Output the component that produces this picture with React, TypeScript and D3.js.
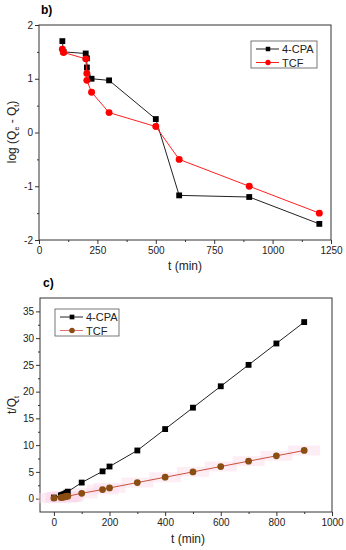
import React, { useEffect, useRef } from 'react'
import * as d3 from 'd3'

// panel b: pseudo-first-order
const bCpaT = [100, 105, 200, 205, 205, 225, 300, 500, 600, 900, 1200]
const bCpaV = [1.7, 1.5, 1.47, 1.38, 1.21, 1.0, 0.97, 0.25, -1.17, -1.2, -1.7]
const bTcfT = [100, 105, 200, 205, 205, 225, 300, 500, 600, 900, 1200]
const bTcfV = [1.55, 1.49, 1.37, 1.1, 0.97, 0.75, 0.37, 0.11, -0.5, -1.0, -1.5]

// panel c: pseudo-second-order
const cCpaT = [0, 25, 30, 35, 40, 45, 50, 100, 175, 200, 300, 400, 500, 600, 700, 800, 900]
const cCpaV = [0.2, 0.6, 0.7, 0.8, 0.9, 1.1, 1.3, 3, 5.1, 6, 9, 13, 17, 21, 25, 29, 33]
const cTcfT = [0, 25, 30, 35, 40, 45, 50, 100, 175, 200, 300, 400, 500, 600, 700, 800, 900]
const cTcfV = [0.1, 0.2, 0.25, 0.3, 0.35, 0.4, 0.45, 1, 1.7, 2, 3, 4, 5, 6, 7, 8, 9]

const seriesNames = ['4-CPA', 'TCF']
const bXTicks = [0, 250, 500, 750, 1000, 1250]
const bYTicks = [-2, -1, 0, 1, 2]
const cXTicks = [0, 200, 400, 600, 800, 1000]
const cYTicks = [0, 5, 10, 15, 20, 25, 30, 35]

const FONT = 'Liberation Sans, Arial, sans-serif'

const App = () => {
  const ref = useRef<SVGSVGElement>(null)

  useEffect(() => {
    const svg = d3.select(ref.current)
    svg.selectAll('*').remove()
    const plain = (d: any) => String(d)

    const drawFrame = (x: any, y: any, xt: number[], yt: number[], xMinor: number[], yMinor: number[]) => {
      const [x0, x1] = x.range()
      const [y0, y1] = y.range()
      const g = svg.append('g')
      g.append('g').attr('transform', `translate(0,${y0})`)
        .call(d3.axisBottom(x).tickValues(xt).tickFormat(plain).tickSize(4).tickSizeOuter(0).tickPadding(3))
      g.append('g').attr('transform', `translate(0,${y0})`)
        .call(d3.axisBottom(x).tickValues(xMinor).tickSize(2).tickFormat(() => '').tickSizeOuter(0))
      g.append('g').attr('transform', `translate(${x0},0)`)
        .call(d3.axisLeft(y).tickValues(yt).tickFormat(plain).tickSize(4).tickSizeOuter(0).tickPadding(2))
      g.append('g').attr('transform', `translate(${x0},0)`)
        .call(d3.axisLeft(y).tickValues(yMinor).tickSize(2).tickFormat(() => '').tickSizeOuter(0))
      g.selectAll('.domain').remove()
      g.selectAll('line').attr('stroke', '#333')
      g.selectAll('text').attr('font-family', FONT).attr('font-size', 10).attr('fill', '#222')
      g.append('rect').attr('x', x0).attr('y', y1).attr('width', x1 - x0).attr('height', y0 - y1)
        .attr('fill', 'none').attr('stroke', '#333').attr('stroke-width', 1)
    }

    const drawSeries = (x: any, y: any, ts: number[], vs: number[], lineColor: string, fill: string, shape: string, size: number) => {
      const pts = ts.map((t, i) => [t, vs[i]] as [number, number])
      const line = d3.line<[number, number]>().x(d => x(d[0])).y(d => y(d[1]))
      svg.append('path').attr('d', line(pts)).attr('fill', 'none').attr('stroke', lineColor).attr('stroke-width', 1)
      const sym = d3.symbol().type(shape === 'square' ? d3.symbolSquare : d3.symbolCircle).size(size)
      svg.append('g').selectAll('path').data(pts).join('path')
        .attr('transform', d => `translate(${x(d[0])},${y(d[1])})`)
        .attr('d', sym).attr('fill', fill)
    }

    const drawLegend = (lx: number, ly: number, w: number, h: number, items: any[]) => {
      const g = svg.append('g')
      g.append('rect').attr('x', lx).attr('y', ly).attr('width', w).attr('height', h)
        .attr('fill', '#fff').attr('stroke', '#555').attr('stroke-width', 0.8)
      items.forEach((it, i) => {
        const yy = ly + 8 + i * 13.5
        g.append('line').attr('x1', lx + 5).attr('x2', lx + 28).attr('y1', yy).attr('y2', yy)
          .attr('stroke', it.line).attr('stroke-width', 1)
        g.append('path').attr('transform', `translate(${lx + 17},${yy})`)
          .attr('d', d3.symbol().type(it.shape === 'square' ? d3.symbolSquare : d3.symbolCircle).size(it.size))
          .attr('fill', it.fill)
        g.append('text').attr('x', lx + 31).attr('y', yy + 4).text(it.name)
          .attr('font-family', FONT).attr('font-size', 11).attr('fill', '#222')
      })
    }

    // ---------- panel b ----------
    const xb = d3.scaleLinear().domain([0, 1250]).range([39, 331])
    const yb = d3.scaleLinear().domain([-2, 2]).range([240, 25])
    drawFrame(xb, yb, bXTicks, bYTicks, [125, 375, 625, 875, 1125], [-1.5, -0.5, 0.5, 1.5])
    drawSeries(xb, yb, bCpaT, bCpaV, '#222', '#000', 'square', 34)
    drawSeries(xb, yb, bTcfT, bTcfV, '#ff2020', '#ff0000', 'circle', 38)
    drawLegend(251, 41, 66, 27, [
      { name: seriesNames[0], line: '#222', fill: '#000', shape: 'square', size: 20 },
      { name: seriesNames[1], line: '#ff2020', fill: '#ff0000', shape: 'circle', size: 22 },
    ])
    svg.append('text').attr('x', 41).attr('y', 14).text('b)')
      .attr('font-family', FONT).attr('font-size', 12).attr('font-weight', 'bold')
    svg.append('text').attr('x', 185).attr('y', 270).attr('text-anchor', 'middle').text('t (min)')
      .attr('font-family', FONT).attr('font-size', 12).attr('fill', '#222')
    const yl = svg.append('text').attr('transform', 'translate(16,132) rotate(-90)')
      .attr('text-anchor', 'middle').attr('font-family', FONT).attr('font-size', 12).attr('fill', '#222')
    yl.append('tspan').text('log (Q')
    yl.append('tspan').text('e').attr('font-size', 7).attr('dy', 3)
    yl.append('tspan').text(' - Q').attr('dy', -3)
    yl.append('tspan').text('t').attr('font-size', 7).attr('dy', 3)
    yl.append('tspan').text(')').attr('dy', -3)

    // ---------- panel c ----------
    const xc = d3.scaleLinear().domain([-50, 1000]).range([40, 332])
    const yc = d3.scaleLinear().domain([-2.5, 37.5]).range([512, 298])
    drawFrame(xc, yc, cXTicks, cYTicks, [100, 300, 500, 700, 900], [2.5, 7.5, 12.5, 17.5, 22.5, 27.5, 32.5])
    // faint pink halo around TCF points
    svg.append('g').selectAll('rect').data(cTcfT.map((t, i) => [t, cTcfV[i]])).join('rect')
      .attr('x', d => xc(d[0]) - 16).attr('y', d => yc(d[1]) - 5).attr('width', 32).attr('height', 10)
      .attr('fill', '#fbd9ec').attr('opacity', 0.45)
    drawSeries(xc, yc, cCpaT, cCpaV, '#222', '#000', 'square', 34)
    drawSeries(xc, yc, cTcfT, cTcfV, '#c8553a', '#8a4d12', 'circle', 36)
    drawLegend(55, 309, 64, 27, [
      { name: seriesNames[0], line: '#222', fill: '#000', shape: 'square', size: 22 },
      { name: seriesNames[1], line: '#e07070', fill: '#8a4d12', shape: 'circle', size: 24 },
    ])
    svg.append('text').attr('x', 43).attr('y', 287).text('c)')
      .attr('font-family', FONT).attr('font-size', 12).attr('font-weight', 'bold')
    svg.append('text').attr('x', 188).attr('y', 543).attr('text-anchor', 'middle').text('t (min)')
      .attr('font-family', FONT).attr('font-size', 12).attr('fill', '#222')
    const yl2 = svg.append('text').attr('transform', 'translate(16,405) rotate(-90)')
      .attr('text-anchor', 'middle').attr('font-family', FONT).attr('font-size', 12).attr('fill', '#222')
    yl2.append('tspan').text('t/Q')
    yl2.append('tspan').text('t').attr('font-size', 7).attr('dy', 3)
  }, [])

  return (
    <div>
      <svg ref={ref} width={346} height={550} style={{ position: 'absolute', left: 0, top: 0, background: '#fff' }} />
    </div>
  )
}

export default App
